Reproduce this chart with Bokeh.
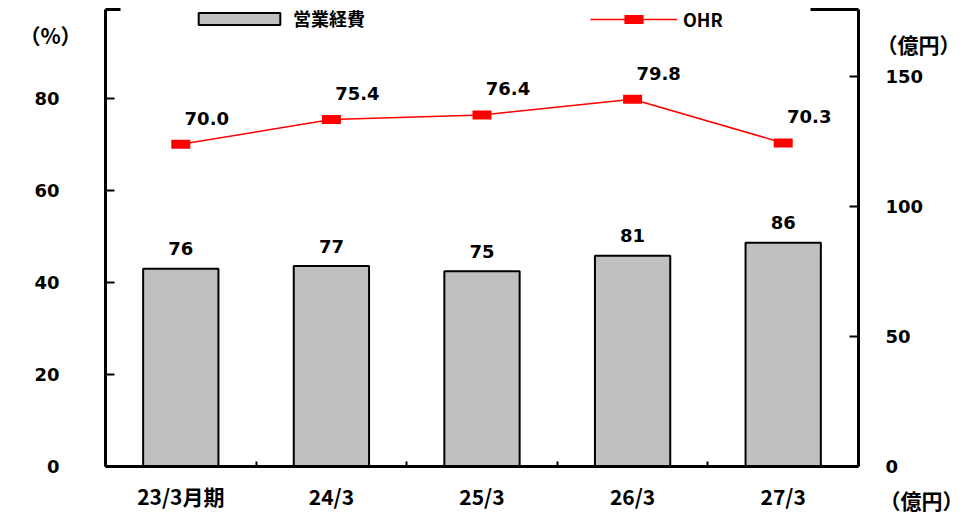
from bokeh.plotting import figure
from bokeh.models import LinearAxis, Range1d, FixedTicker, Legend, LegendItem, Label
from bokeh.core.properties import value
from bokeh.embed import file_html
from bokeh.resources import INLINE

categories = ["23/3月期", "24/3", "25/3", "26/3", "27/3"]
expenses = [76, 77, 75, 81, 86]
ohr = [70.0, 75.4, 76.4, 79.8, 70.3]
left_ticks = [0, 20, 40, 60, 80]
right_ticks = [0, 50, 100, 150]
left_unit = "（%）"
right_unit = "（億円）"
left_max = 99.3
right_max = 175.6

NUM_FONT = "DejaVu Sans"
JP_FONT = "Noto Sans CJK JP"

# canvas and plot-box geometry (pixels)
W, H = 963, 516
BOX_L, BOX_R, BOX_T, BOX_B = 105, 858, 9, 466
TOP_GAP_L, TOP_GAP_R = 120, 810   # part of the top border hidden behind the legend

n = len(categories)
xs = list(range(n))
x_lo, x_hi = -0.5, n - 0.5
ppx = (BOX_R - BOX_L) / (x_hi - x_lo)
ppy = (BOX_B - BOX_T) / left_max
ppy_r = (BOX_B - BOX_T) / right_max

p = figure(width=W, height=H, output_backend="svg", toolbar_location=None, title=None,
           x_range=Range1d(x_lo - BOX_L / ppx, x_hi + (W - BOX_R) / ppx),
           y_range=Range1d(-(H - BOX_B) / ppy, left_max + BOX_T / ppy),
           min_border=0, x_axis_type=None, y_axis_type=None)
p.extra_y_ranges = {"right": Range1d(-(H - BOX_B) / ppy_r, right_max + BOX_T / ppy_r)}
p.outline_line_color = None
p.grid.visible = False
p.background_fill_color = "white"
p.border_fill_color = "white"

# bottom axis: labels at category centres, small ticks between categories
xaxis = LinearAxis(ticker=FixedTicker(ticks=xs, minor_ticks=[i + 0.5 for i in xs[:-1]]),
                   major_label_overrides={i: c for i, c in zip(xs, categories)},
                   fixed_location=0, bounds=(x_lo, x_hi))
xaxis.major_tick_in = 0
xaxis.major_tick_out = 0
xaxis.minor_tick_in = 5
xaxis.minor_tick_out = 0
xaxis.minor_tick_line_width = 2
xaxis.axis_line_width = 3
xaxis.major_label_standoff = 14
xaxis.major_label_text_font = JP_FONT
xaxis.major_label_text_font_style = "bold"
xaxis.major_label_text_font_size = "21px"
xaxis.major_label_text_color = "black"
p.add_layout(xaxis, "below")

# short pieces of the top border (the middle part is hidden behind the legend)
for b0, b1 in [(x_lo, x_lo + (TOP_GAP_L - BOX_L) / ppx), (x_hi - (BOX_R - TOP_GAP_R) / ppx, x_hi)]:
    top = LinearAxis(ticker=FixedTicker(ticks=[]), fixed_location=left_max, bounds=(b0, b1))
    top.major_tick_in = 0
    top.major_tick_out = 0
    top.minor_tick_in = 0
    top.minor_tick_out = 0
    top.axis_line_width = 3
    top.major_label_text_font_size = "0px"
    p.add_layout(top, "above")

# left axis
yaxis = LinearAxis(ticker=FixedTicker(ticks=left_ticks), fixed_location=x_lo, bounds=(0, left_max))
yaxis.major_tick_in = 9
yaxis.major_tick_out = 0
yaxis.minor_tick_in = 0
yaxis.minor_tick_out = 0
yaxis.major_tick_line_width = 2
yaxis.axis_line_width = 3
yaxis.major_label_standoff = 46
yaxis.major_label_text_font = NUM_FONT
yaxis.major_label_text_font_style = "bold"
yaxis.major_label_text_font_size = "18px"
yaxis.major_label_text_color = "black"
p.add_layout(yaxis, "left")

# right axis
raxis = LinearAxis(y_range_name="right", ticker=FixedTicker(ticks=right_ticks),
                   fixed_location=x_hi, bounds=(0, right_max))
raxis.major_tick_in = 9
raxis.major_tick_out = 0
raxis.minor_tick_in = 0
raxis.minor_tick_out = 0
raxis.major_tick_line_width = 2
raxis.axis_line_width = 3
raxis.major_label_standoff = 27
raxis.major_label_text_font = NUM_FONT
raxis.major_label_text_font_style = "bold"
raxis.major_label_text_font_size = "18px"
raxis.major_label_text_color = "black"
p.add_layout(raxis, "right")

# bars
bars = p.vbar(x=xs, top=expenses, width=0.5, y_range_name="right",
              fill_color="#c0c0c0", line_color="black", line_width=2)
p.text(x=xs, y=expenses, text=[str(v) for v in expenses], y_range_name="right",
       text_align="center", text_baseline="middle", y_offset=-20,
       text_font=value(NUM_FONT), text_font_style="bold", text_font_size="18px",
       text_color="black")

# OHR line with flat rectangular markers
line = p.line(x=xs, y=ohr, line_color="red", line_width=1.5)
marks = p.scatter(x=xs, y=ohr, marker="dash", size=19, line_color="red", line_width=9,
                  line_cap="butt")
p.text(x=xs, y=ohr, text=[f"{v:.1f}" for v in ohr],
       text_align="center", text_baseline="middle", x_offset=26, y_offset=-26,
       text_font=value(NUM_FONT), text_font_style="bold", text_font_size="18px",
       text_color="black")

leg_common = dict(orientation="horizontal", padding=0, margin=0,
                  border_line_color=None, background_fill_alpha=0,
                  label_text_font=JP_FONT, label_text_font_style="bold",
                  label_text_font_size="18px", label_text_color="black")
legend1 = Legend(items=[LegendItem(label="営業経費", renderers=[bars])],
                 location=(188, H - 31), glyph_width=102, glyph_height=15,
                 label_standoff=3, **leg_common)
legend2 = Legend(items=[LegendItem(label="OHR", renderers=[line, marks])],
                 location=(590, H - 43), glyph_width=87, glyph_height=48,
                 label_standoff=6, **leg_common)
p.add_layout(legend1, "center")
p.add_layout(legend2, "center")

# unit captions
unit_style = dict(text_align="center", text_baseline="middle", text_font=JP_FONT,
                  text_font_style="bold", text_font_size="21px", text_color="black")
p.add_layout(Label(x=x_lo, y=left_max, x_offset=-55, y_offset=-25, text=left_unit, **unit_style))
p.add_layout(Label(x=x_hi, y=left_max, x_offset=60, y_offset=-34, text=right_unit, **unit_style))
p.add_layout(Label(x=x_hi, y=0, x_offset=63, y_offset=-33, text=right_unit, **unit_style))

open("out.html", "w").write(file_html(p, INLINE))
